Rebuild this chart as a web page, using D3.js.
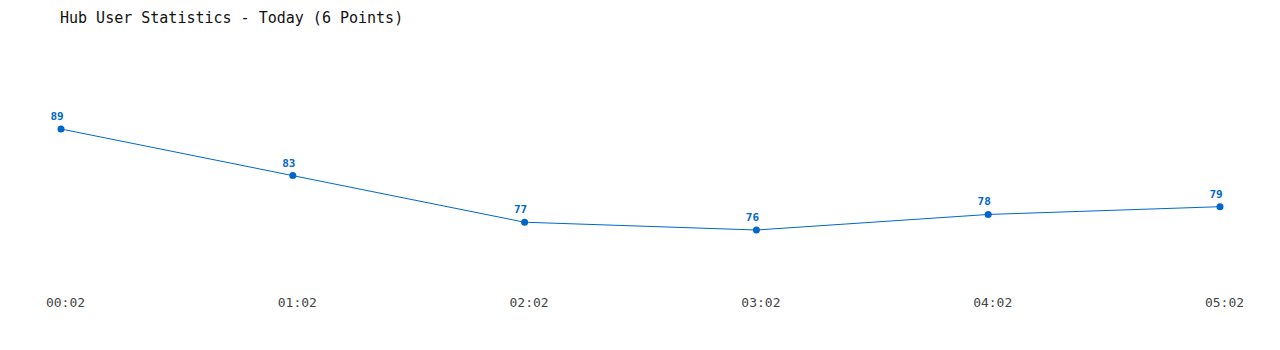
<!DOCTYPE html>
<html><head><meta charset="utf-8">
<script src="https://cdn.jsdelivr.net/npm/d3@7"></script>
<style>body{margin:0;background:#fff}</style>
</head><body><svg id="c" width="1280" height="350"></svg>
<script>
const categories = ["00:02","01:02","02:02","03:02","04:02","05:02"];
const values = [89,83,77,76,78,79];
const title = "Hub User Statistics - Today (6 Points)";

const svg = d3.select("#c");
const x = d3.scalePoint().domain(categories).range([61,1220]);
const y = d3.scaleLinear().domain([76,89]).range([230,129]);
const font = "'DejaVu Sans Mono', 'Liberation Mono', monospace";

svg.append("text").attr("x",60).attr("y",23).attr("font-family",font)
  .attr("font-size",15).attr("fill","#111").text(title);

const line = d3.line().x((d,i)=>x(categories[i])).y(d=>y(d));
svg.append("path").datum(values).attr("d",line).attr("fill","none")
  .attr("stroke","#0066cc").attr("stroke-width",1);

svg.selectAll("circle.p").data(values).join("circle")
  .attr("cx",(d,i)=>x(categories[i])).attr("cy",d=>y(d)).attr("r",3.5).attr("fill","#0066cc");

svg.selectAll("text.v").data(values).join("text")
  .attr("x",(d,i)=>x(categories[i])-4).attr("y",d=>y(d)-9)
  .attr("text-anchor","middle").attr("font-family",font).attr("font-weight","bold")
  .attr("font-size",11).attr("fill","#0066cc").text(d=>d);

const ax = svg.append("g").attr("transform","translate(4,0)")
  .call(d3.axisBottom(x).tickSize(0).tickPadding(0));
ax.select(".domain").remove();
ax.selectAll("text").attr("y",298).attr("font-family",font).attr("font-size",13).attr("fill","#444");
</script></body></html>
